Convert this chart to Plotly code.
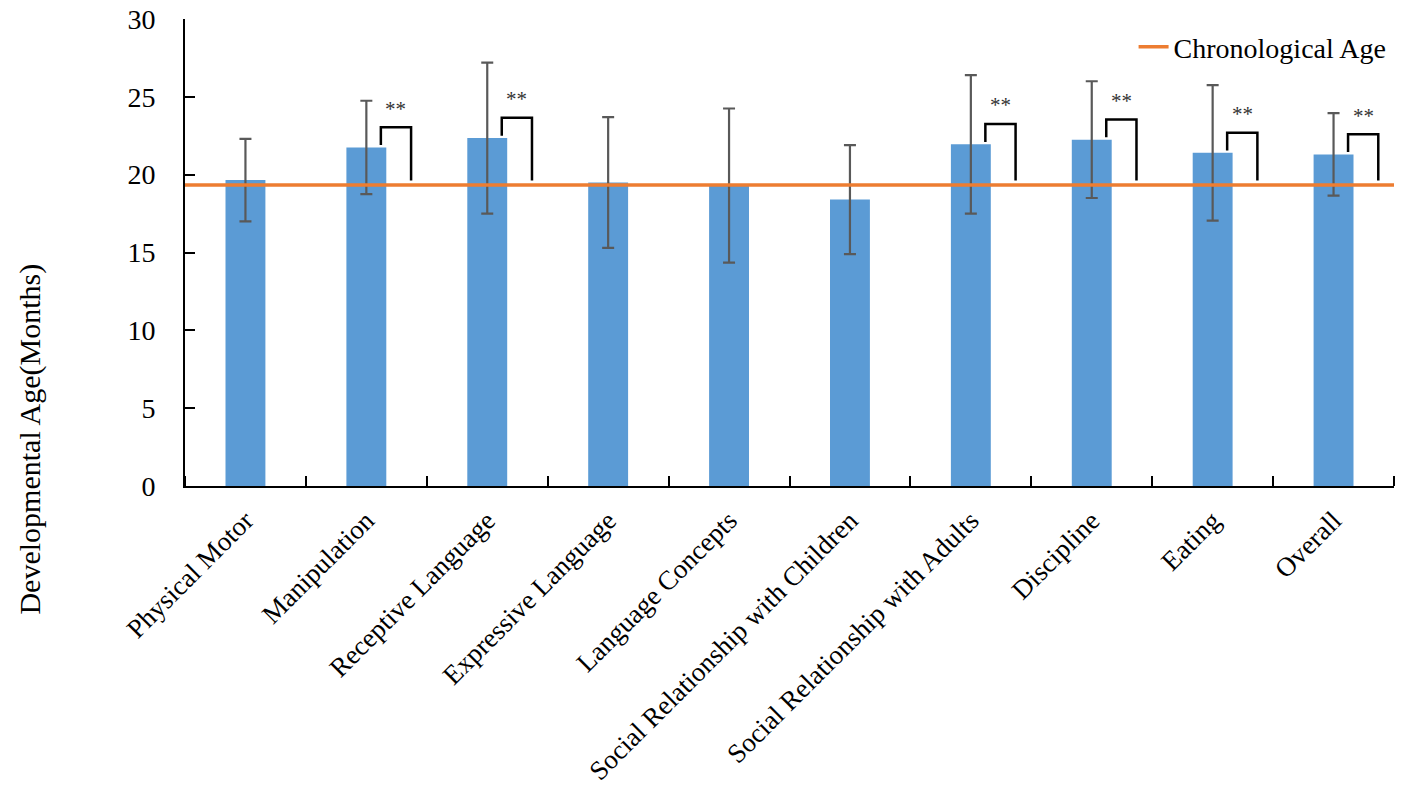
import numpy as np
import plotly.graph_objects as go

# 各领域的发育年龄（均值 ± 标准差）
categories = [
    "Physical Motor",
    "Manipulation",
    "Receptive Language",
    "Expressive Language",
    "Language Concepts",
    "Social Relationship with Children",
    "Social Relationship with Adults",
    "Discipline",
    "Eating",
    "Overall",
]
mean_age = [19.65, 21.75, 22.35, 19.5, 19.3, 18.4, 21.95, 22.25, 21.4, 21.3]
sd_age = [2.65, 3.0, 4.85, 4.2, 4.95, 3.5, 4.45, 3.75, 4.35, 2.65]
significant = [False, True, True, False, False, False, True, True, True, True]
chrono_age = 19.33

serif = "Liberation Serif"
x = np.arange(len(categories))

fig = go.Figure()

# 柱状图 + 误差线
fig.add_trace(
    go.Bar(
        x=x,
        y=mean_age,
        width=0.33,
        marker=dict(color="#5B9BD5", line=dict(width=0)),
        error_y=dict(
            type="data",
            array=sd_age,
            visible=True,
            color="#595959",
            thickness=2.2,
            width=6,
        ),
        showlegend=False,
    )
)

# 实际年龄参考线
fig.add_trace(
    go.Scatter(
        x=[-0.5, len(categories) - 0.5],
        y=[chrono_age, chrono_age],
        mode="lines",
        line=dict(color="#ED7D31", width=3.5),
        name="Chronological Age",
    )
)

# 显著性括号和 ** 标记
bx, by = [], []
for i, (m, sig) in enumerate(zip(mean_age, significant)):
    if not sig:
        continue
    top = m + 1.3
    bx += [i + 0.12, i + 0.12, i + 0.37, i + 0.37, None]
    by += [m + 0.15, top, top, chrono_age + 0.3, None]
    fig.add_annotation(
        x=i + 0.245,
        y=top + 0.3,
        text="**",
        showarrow=False,
        yanchor="bottom",
        font=dict(family=serif, size=21, color="#333333"),
    )

fig.add_trace(
    go.Scatter(
        x=bx,
        y=by,
        mode="lines",
        line=dict(color="black", width=2.5),
        showlegend=False,
        hoverinfo="skip",
    )
)

# 纵轴标题（放在整张图的中部）
fig.add_annotation(
    xref="paper",
    yref="paper",
    x=-0.128,
    y=0.1,
    xanchor="center",
    yanchor="middle",
    text="Developmental Age(Months)",
    textangle=-90,
    showarrow=False,
    font=dict(family=serif, size=30, color="black"),
)

# 页面自带 8px 边距，所以画布比窗口小 8px
fig.update_layout(
    width=1410,
    height=788,
    margin=dict(l=177, r=24, t=11, b=310),
    paper_bgcolor="white",
    plot_bgcolor="white",
    font=dict(family=serif, color="black"),
    legend=dict(
        x=0.998,
        y=0.94,
        xanchor="right",
        yanchor="middle",
        font=dict(family=serif, size=28, color="black"),
        bgcolor="rgba(255,255,255,0)",
    ),
    xaxis=dict(
        range=[-0.5, len(categories) - 0.5],
        tickmode="array",
        tickvals=x,
        ticktext=categories,
        tickangle=-45,
        ticks="",
        ticklabelstandoff=6,
        ticklabeloverflow="allow",
        tickfont=dict(family=serif, size=27, color="black"),
        showline=True,
        linecolor="black",
        linewidth=2,
        showgrid=False,
        zeroline=False,
        automargin=False,
        minor=dict(
            tickmode="array",
            tickvals=np.arange(len(categories) + 1) - 0.5,
            ticks="inside",
            ticklen=10,
            tickwidth=2,
            tickcolor="black",
            showgrid=False,
        ),
    ),
    yaxis=dict(
        range=[0, 30],
        dtick=5,
        ticks="inside",
        ticklen=10,
        tickwidth=2,
        tickcolor="black",
        ticklabelstandoff=22,
        ticklabeloverflow="allow",
        tickfont=dict(family=serif, size=28, color="black"),
        showline=True,
        linecolor="black",
        linewidth=2,
        showgrid=False,
        zeroline=False,
        automargin=False,
    ),
)

fig.write_html("out.html")
